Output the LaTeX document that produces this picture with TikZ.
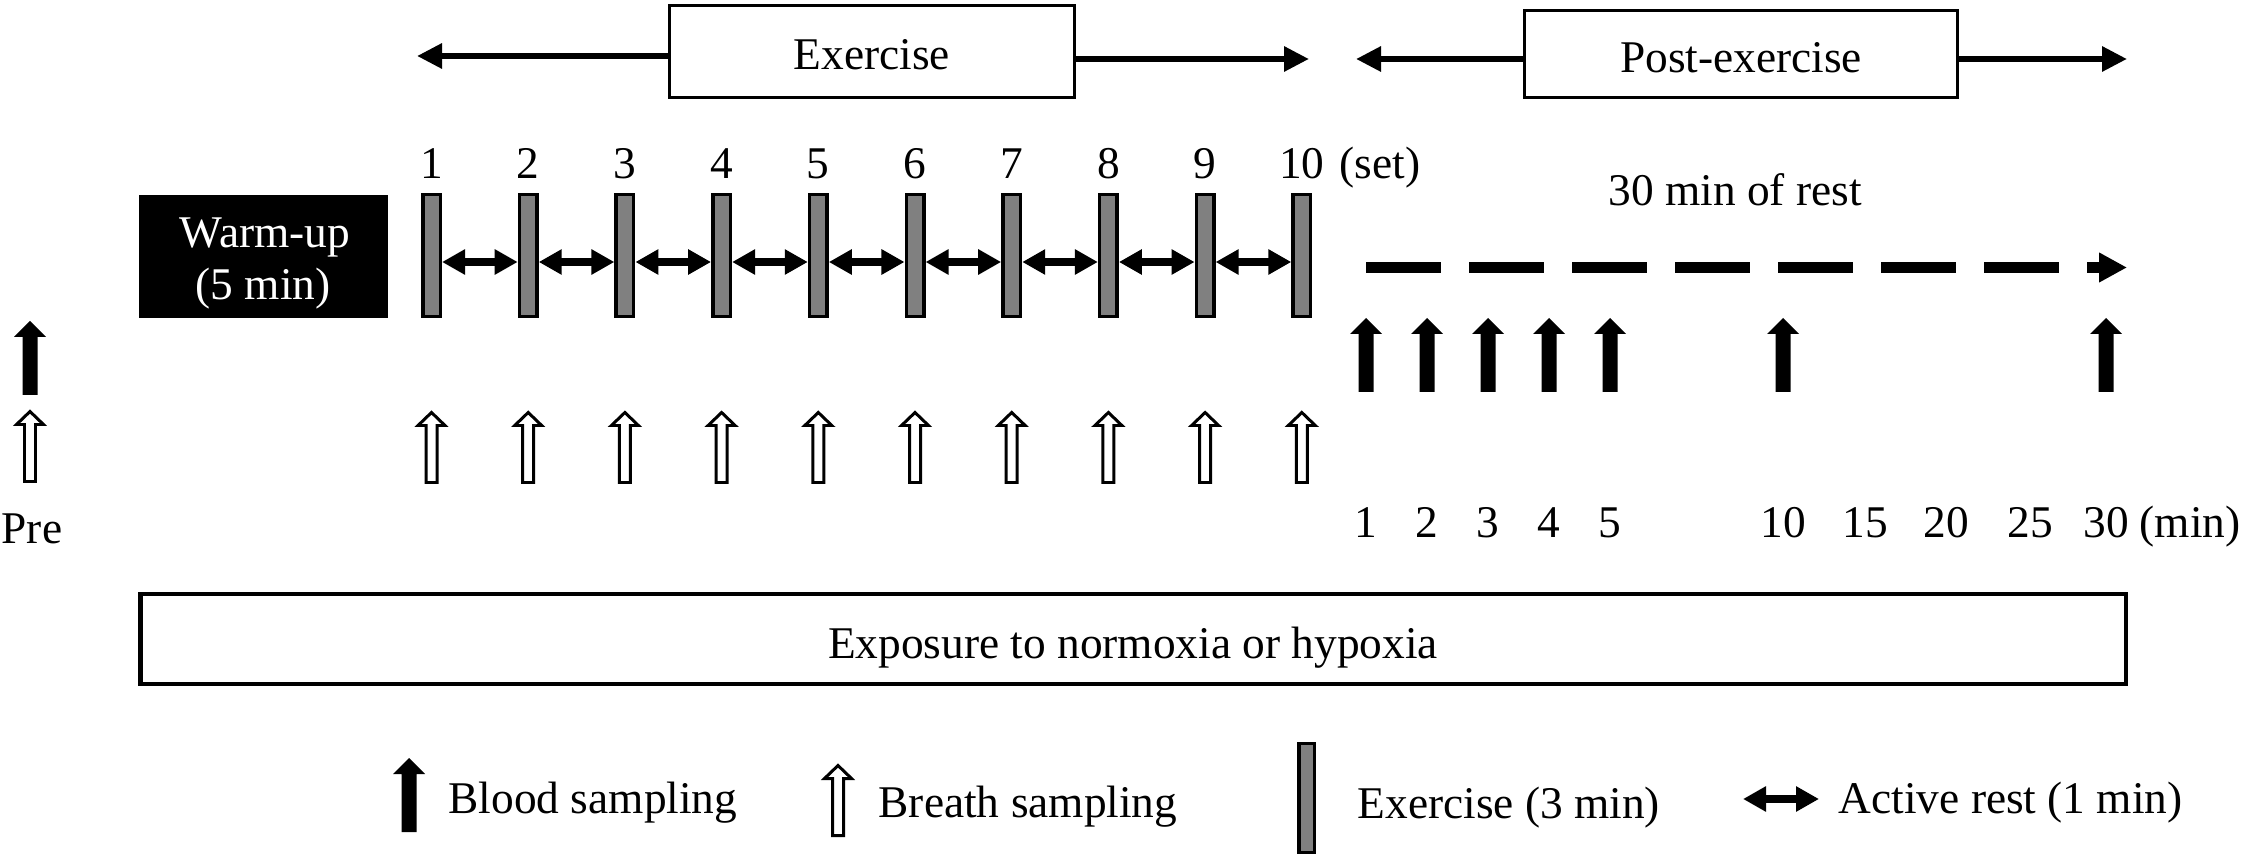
\documentclass[tikz,border=0pt]{standalone}
\usepackage{fontspec}
\setmainfont{Liberation Serif}
\usetikzlibrary{arrows.meta}
\definecolor{bargray}{HTML}{808080}
\begin{document}
\begin{tikzpicture}[x=0.01cm,y=-0.01cm,
  font=\fontsize{12.9}{14.8}\selectfont,
  box/.style={draw=black,line width=0.85pt,fill=white,inner sep=0pt},
  exbar/.style={draw=black,line width=1pt,fill=bargray,inner sep=0pt,minimum width=0.175cm,minimum height=1.215cm},
  lbl/.style={anchor=base,inner sep=0pt},
  lblw/.style={anchor=base west,inner sep=0pt},
  toparr/.style={line width=1.7pt,-{Triangle[length=0.25cm,width=0.24cm]}},
  dbl/.style={line width=2pt,{Triangle[length=0.23cm,width=0.24cm]}-{Triangle[length=0.23cm,width=0.24cm]}},
  restline/.style={line width=2.85pt,dash pattern=on 0.75cm off 0.28cm,-{Triangle[length=0.28cm,width=0.28cm]}},
  blood/.pic={\fill[black] (0,0) -- (16,16) -- (7.5,16) -- (7.5,74) -- (-7.5,74) -- (-7.5,16) -- (-16,16) -- cycle;},
  breath/.pic={\filldraw[fill=white,draw=black,line width=0.85pt] (0,2.5) -- (13.5,15.5) -- (5.5,15.5) -- (5.5,72.5) -- (-5.5,72.5) -- (-5.5,15.5) -- (-13.5,15.5) -- cycle;}
]
\path[use as bounding box] (0,0) rectangle (2246,858);

% ---- top phase boxes ----
\node[box,minimum width=4.05cm,minimum height=0.92cm] (exbox) at (872,51.5) {};
\node[lbl] (extxt) at (872,70) {Exercise};
\coordinate (exL) at (417,56);
\coordinate (exR) at (1309,59);
\draw[toparr] (exbox.west |- exL) -- (exL);
\draw[toparr] (exbox.east |- exR) -- (exR);

\node[box,minimum width=4.33cm,minimum height=0.87cm] (pobox) at (1741,54) {};
\node[lbl] (potxt) at (1741,73) {Post-exercise};
\coordinate (poL) at (1356,59);
\coordinate (poR) at (2127,59);
\draw[toparr] (pobox.west |- poL) -- (poL);
\draw[toparr] (pobox.east |- poR) -- (poR);

% ---- warm-up ----
\node[fill=black,inner sep=0pt,minimum width=2.49cm,minimum height=1.23cm] (warm) at (263.5,256.5) {};
\node[lbl,text=white] (warm1) at (265,248) {Warm-up};
\node[lbl,text=white] (warm2) at (263,300) {(5 min)};

% ---- pre ----
\pic (preblood) at (30,321) {blood};
\pic (prebreath) at (30,409) {breath};
\node[lbl] (pretxt) at (32,543) {Pre};

% ---- exercise sets ----
\foreach \i in {1,...,10}{
  \pgfmathsetmacro{\xx}{431.5+96.7*(\i-1)}
  \node[exbar] (bar\i) at (\xx,255.5) {};
  \node[lbl] (set\i) at (\xx,179) {\i};
  \pic (br\i) at (\xx,410) {breath};
}
\node[lbl] (settxt) at (1380,179) {(set)};
\foreach \i [evaluate=\i as \j using int(\i+1)] in {1,...,9}{
  \draw[dbl] ([yshift=-0.065cm]bar\i.east) -- ([yshift=-0.065cm]bar\j.west);
}

% ---- post-exercise ----
\node[lbl] (resttxt) at (1735,206) {30 min of rest};
\coordinate (restS) at (1366,267.5);
\coordinate (restE) at (2127,267.5);
\draw[restline] (restS) -- (restE);
\foreach \xx in {1366,1427,1488,1549,1610,1783,2106}{
  \pic at (\xx,318) {blood};
}
\foreach \xx/\t in {1366/1,1427/2,1488/3,1549/4,1610/5,1783/10,1865/15,1946/20,2030/25,2106/30}{
  \node[lbl] (m\t) at (\xx,537) {\t};
}
\node[lbl] (mintxt) at (2190,537) {(min)};

% ---- exposure ----
\node[box,line width=1.2pt,minimum width=19.84cm,minimum height=0.90cm] (expo) at (1133,639) {};
\node[lbl] (expotxt) at (1133,658) {Exposure to normoxia or hypoxia};

% ---- legend ----
\pic (lgblood) at (409,758) {blood};
\node[lblw] (lgbloodtxt) at (448,813) {Blood sampling};
\pic (lgbreath) at (838,763) {breath};
\node[lblw] (lgbreathtxt) at (878,817) {Breath sampling};
\node[exbar,minimum width=0.155cm,minimum height=1.085cm] (lgbar) at (1306.5,798) {};
\node[lblw] (lgbartxt) at (1357,818) {Exercise (3 min)};
\coordinate (lgA) at (1743,799);
\coordinate (lgB) at (1819,799);
\draw[dbl] (lgA) -- (lgB);
\node[lblw] (lgrest) at (1838,813) {Active rest (1 min)};
\end{tikzpicture}
\end{document}
